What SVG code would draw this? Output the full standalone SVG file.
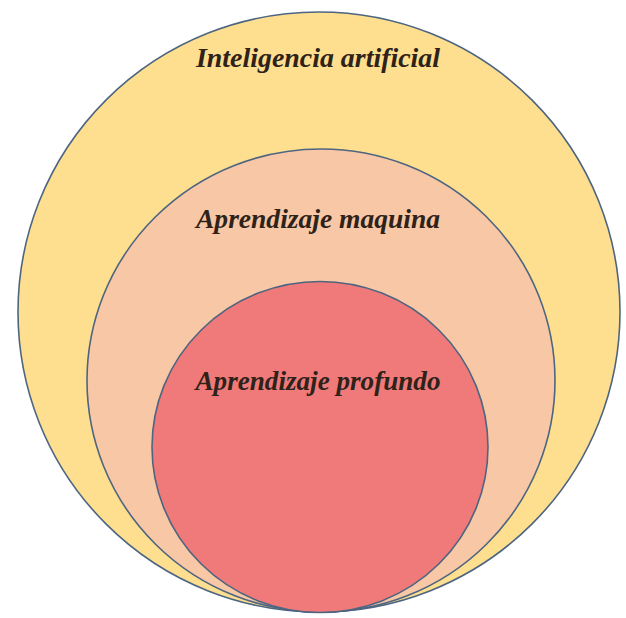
<svg xmlns="http://www.w3.org/2000/svg" width="626" height="618" viewBox="0 0 626 618">
<style>
.c{stroke:#4d6580;stroke-width:1.6}
.t{font-family:'Liberation Serif','Times New Roman','DejaVu Serif',serif;font-style:italic;font-weight:bold;font-size:27px;fill:#2e2219;text-anchor:middle}
</style>
<rect width="626" height="618" fill="#ffffff"/>
<g id="inteligencia-artificial">
<ellipse class="c" cx="319" cy="312" rx="301" ry="300" fill="#fedf8f"/>
<text class="t" x="318" y="67" textLength="244" lengthAdjust="spacingAndGlyphs">Inteligencia artificial</text>
</g>
<g id="aprendizaje-maquina">
<ellipse class="c" cx="321" cy="380.5" rx="234" ry="231.5" fill="#f8c7a5"/>
<text class="t" x="318" y="228" textLength="244" lengthAdjust="spacingAndGlyphs">Aprendizaje maquina</text>
</g>
<g id="aprendizaje-profundo">
<ellipse class="c" cx="320" cy="447" rx="168" ry="165.5" fill="#f07a7a"/>
<text class="t" x="318" y="390" textLength="245" lengthAdjust="spacingAndGlyphs">Aprendizaje profundo</text>
</g>
<g id="connectors"/>
</svg>
